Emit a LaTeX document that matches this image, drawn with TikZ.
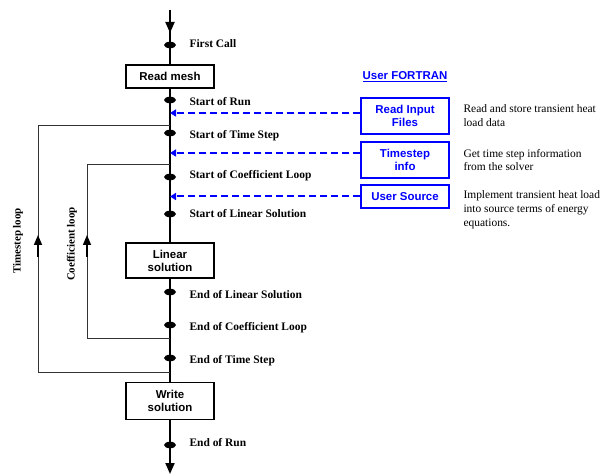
\documentclass[tikz,border=0pt]{standalone}
\usepackage{fontspec}
\setmainfont{Liberation Serif}
\setsansfont{Liberation Sans}
\usetikzlibrary{arrows.meta,shapes.geometric}
\definecolor{fortblue}{RGB}{0,0,255}
\begin{document}
\begin{tikzpicture}[
    x=1bp, y=-1bp,
    box/.style={draw, line width=1.2bp, minimum width=88bp, inner sep=2bp, font=\sffamily\bfseries\fontsize{11.5}{13}\selectfont, align=center},
    ubox/.style={box, draw=fortblue, text=fortblue, line width=1.5bp},
    dot/.style={ellipse, fill, minimum width=12bp, minimum height=6.5bp, inner sep=0pt},
    lbl/.style={anchor=west, font=\bfseries\fontsize{11.5}{13}\selectfont},
    note/.style={anchor=west, align=left, font=\fontsize{11.5}{14}\selectfont},
    call/.style={fortblue, line width=2bp, dash pattern=on 7bp off 4bp, -{Triangle[length=6bp,width=7bp]}},
    loopline/.style={line width=0.8bp, black!80},
    flow/.style={line width=2bp, -{Triangle[length=11bp,width=9bp]}}
]
    \useasboundingbox (0,0) rectangle (609,476);

    \node[box, minimum height=23bp] (mesh) at (170,76.5) {Read mesh};
    \node[box, minimum height=35bp] (lin) at (170,260.5) {Linear\\solution};
    \node[box, minimum height=37bp] (wr) at (170,401) {Write\\solution};

    \coordinate (top) at (170,10);
    \coordinate (ahead) at (170,33);
    \coordinate (bot) at (170,474);
    \draw[line width=1.8bp] (top) -- (mesh.north);
    \draw[flow] (top) -- (ahead);
    \draw[line width=1.5bp] (mesh) -- (lin) (lin) -- (wr);
    \draw[flow] (wr.south) -- (bot);

    \coordinate (tsa) at (170,125);
    \coordinate (tsb) at (170,372);
    \coordinate (cfa) at (170,164);
    \coordinate (cfb) at (170,338);
    \draw[loopline] (tsa) -- ++(-132,0) |- (tsb);
    \draw[loopline] (cfa) -- ++(-83,0) |- (cfb);
    \coordinate (tsup) at (38,235);
    \coordinate (cfup) at (87,235);
    \draw[flow, line width=1.5bp, -{Triangle[length=10bp,width=8bp]}] ([yshift=-22bp]tsup) -- (tsup);
    \draw[flow, line width=1.5bp, -{Triangle[length=10bp,width=8bp]}] ([yshift=-22bp]cfup) -- (cfup);
    \node[rotate=90, font=\bfseries\fontsize{11}{13}\selectfont] (tsl) at (18,241) {Timestep loop};
    \node[rotate=90, font=\bfseries\fontsize{11}{13}\selectfont] (cfl) at (72,244) {Coefficient loop};

    \node[dot] (d1) at (170,45) {};
    \node[dot] (d2) at (170,100) {};
    \node[dot] (d3) at (170,133) {};
    \node[dot] (d4) at (170,177) {};
    \node[dot] (d5) at (170,214) {};
    \node[dot] (d6) at (170,292) {};
    \node[dot] (d7) at (170,325) {};
    \node[dot] (d8) at (170,358) {};
    \node[dot] (d9) at (170,445) {};

    \node[lbl] (l1) at (186,44) {First Call};
    \node[lbl] (l2) at (186,102) {Start of Run};
    \node[lbl] (l3) at (186,136) {Start of Time Step};
    \node[lbl] (l4) at (186,176) {Start of Coefficient Loop};
    \node[lbl] (l5) at (186,214) {Start of Linear Solution};
    \node[lbl] (l6) at (186,295) {End of Linear Solution};
    \node[lbl] (l7) at (186,328) {End of Coefficient Loop};
    \node[lbl] (l8) at (186,361) {End of Time Step};
    \node[lbl] (l9) at (186,443) {End of Run};

    \node[font=\sffamily\bfseries\fontsize{11.5}{13}\selectfont, text=fortblue] (uf) at (405,77) {\underline{User FORTRAN}};
    \node[ubox, minimum height=36bp] (rif) at (405,116) {Read Input\\Files};
    \node[ubox, minimum height=36bp] (tsi) at (405,160) {Timestep\\info};
    \node[ubox, minimum height=23bp] (usr) at (405,196.5) {User Source};

    \draw[call] ([yshift=3bp]rif.west) -- ([yshift=3bp]rif.west -| mesh.south);
    \draw[call] ([yshift=7bp]tsi.west) -- ([yshift=7bp]tsi.west -| mesh.south);
    \draw[call] (usr.west) -- (usr.west -| mesh.south);

    \node[note] (rn) at (460,116) {Read and store transient heat\\load data};
    \node[note] (tn) at (460,160) {Get time step information\\from the solver};
    \node[note] (un) at (460,210) {Implement transient heat load\\into source terms of energy\\equations.};
\end{tikzpicture}
\end{document}
